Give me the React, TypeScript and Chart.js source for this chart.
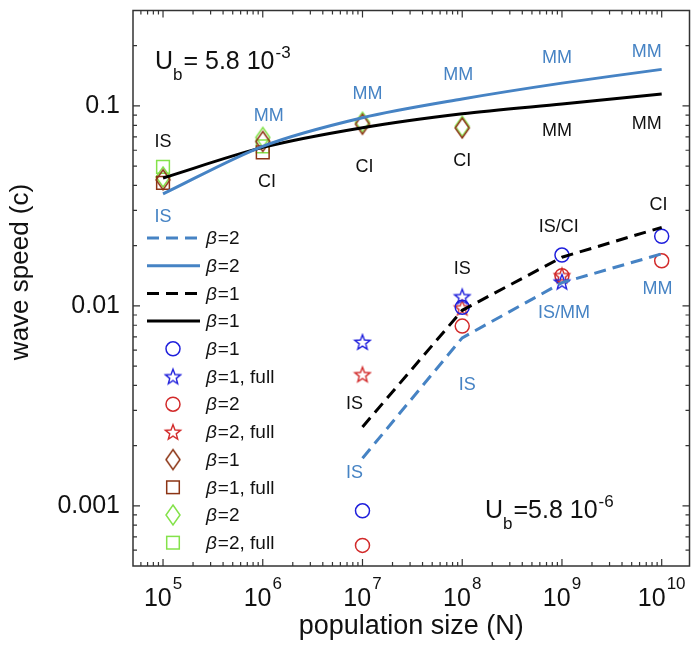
import React, { useEffect, useRef } from "react";
import { Chart, registerables } from "chart.js";

Chart.register(...registerables);

const FONT = "'Liberation Sans', Arimo, Arial, Helvetica, sans-serif";

// ---------------- data ----------------
const popTop = [1e5, 1e6, 1e7, 1e8, 1e9, 1e10];
const theoryTopBeta2 = [0.0363, 0.0628, 0.0873, 0.1083, 0.13, 0.1523];
const theoryTopBeta1 = [0.0436, 0.062, 0.0778, 0.0913, 0.1023, 0.1146];

const popLow = [1e7, 1e8, 1e9, 1e10];
const theoryLowBeta2 = [0.00173, 0.00692, 0.01306, 0.0182];
const theoryLowBeta1 = [0.00248, 0.0095, 0.0175, 0.0247];
const simLowBeta1 = [0.000944, 0.00984, 0.01795, 0.0223];
const simLowBeta2 = [0.000634, 0.00792, 0.01416, 0.0168];

const popLowFull = [1e7, 1e8, 1e9];
const fullLowBeta1 = [0.0066, 0.01114, 0.0132];
const fullLowBeta2 = [0.00454, 0.0098, 0.0142];

const popTopSim = [1e5, 1e6, 1e7, 1e8];
const simTopBeta1 = [0.0427, 0.0664, 0.081, 0.0775];
const simTopBeta2 = [0.0441, 0.0695, 0.0828, 0.079];

const popTopFull = [1e5, 1e6];
const fullTopBeta1 = [0.0412, 0.0586];
const fullTopBeta2 = [0.0496, 0.0628];

const xMin = 5e4;
const xMax = 1.9e10;
const yMin = 5e-4;
const yMax = 0.3;

const xTickValues = [1e5, 1e6, 1e7, 1e8, 1e9, 1e10];
const xTickExponents = ["5", "6", "7", "8", "9", "10"];
const yTickValues = [0.001, 0.01, 0.1];
const yTickLabels = ["0.001", "0.01", "0.1"];

const regimeText = ["IS", "IS", "MM", "CI", "MM", "CI", "MM", "CI", "MM", "MM", "MM", "MM", "CI", "IS/CI", "IS", "IS/MM", "MM", "IS", "IS", "IS"];
const regimeX = [1e5, 1e5, 1.15e6, 1.1e6, 1.12e7, 1.05e7, 0.91e8, 1e8, 0.89e9, 0.89e9, 0.71e10, 0.71e10, 0.93e10, 0.93e9, 1e8, 1.05e9, 0.91e10, 1.12e8, 0.83e7, 0.83e7];
const regimeY = [0.0657, 0.0277, 0.089, 0.0417, 0.1146, 0.0494, 0.1423, 0.0528, 0.1726, 0.0753, 0.187, 0.0815, 0.0321, 0.0247, 0.01531, 0.00918, 0.01219, 0.00404, 0.00323, 0.001455];
const regimeIsBlue = [false, true, true, false, true, false, true, false, true, false, true, false, false, false, false, true, true, true, false, true];

const ubX = [8.3e4, 1.69e8];
const ubY = [0.1524, 0.000873];
const ubMid = ["= 5.8 10", "=5.8 10"];
const ubExp = ["-3", "-6"];

const legendLabels = ["=2", "=2", "=1", "=1", "=1", "=1, full", "=2", "=2, full", "=1", "=1, full", "=2", "=2, full"];

// ---------------- styles ----------------
const LINE_BLUE = "#4683c4";
const MK_BLUE = "#1f1fdc";
const MK_RED = "#d22a2a";
const MK_BROWN = "#8c3414";
const MK_GREEN = "#84e24a";
const AXIS = "#333333";
const TXT = "#111111";

function starCanvas(color: string) {
  const s = 20;
  const c = document.createElement("canvas");
  c.width = s;
  c.height = s;
  const g = c.getContext("2d")!;
  g.strokeStyle = color;
  g.lineWidth = 1.4;
  g.lineJoin = "miter";
  g.beginPath();
  for (let i = 0; i < 10; i++) {
    const r = i % 2 === 0 ? 8 : 3.4;
    const a = -Math.PI / 2 + (i * Math.PI) / 5;
    const px = s / 2 + r * Math.cos(a);
    const py = s / 2 + 0.8 + r * Math.sin(a);
    if (i === 0) g.moveTo(px, py);
    else g.lineTo(px, py);
  }
  g.closePath();
  g.stroke();
  return c;
}

function diamondCanvas(color: string) {
  const w = 18;
  const h = 24;
  const c = document.createElement("canvas");
  c.width = w;
  c.height = h;
  const g = c.getContext("2d")!;
  g.strokeStyle = color;
  g.lineWidth = 1.5;
  g.beginPath();
  g.moveTo(w / 2, h / 2 - 10);
  g.lineTo(w / 2 + 7, h / 2);
  g.lineTo(w / 2, h / 2 + 10);
  g.lineTo(w / 2 - 7, h / 2);
  g.closePath();
  g.stroke();
  return c;
}

function pts(xs: number[], ys: number[]) {
  return xs.map((x, i) => ({ x, y: ys[i] }));
}

export default function App() {
  const ref = useRef<HTMLCanvasElement | null>(null);

  useEffect(() => {
    const canvas = ref.current;
    if (!canvas) return;

    const starBlue = starCanvas(MK_BLUE);
    const starRed = starCanvas(MK_RED);
    const diaBrown = diamondCanvas(MK_BROWN);
    const diaGreen = diamondCanvas(MK_GREEN);

    const lineDs = (label: string, xs: number[], ys: number[], color: string, dashed: boolean, tension: number) => ({
      type: "line" as const,
      label,
      data: pts(xs, ys),
      showLine: true,
      borderColor: color,
      borderWidth: 3,
      borderDash: dashed ? [12, 7] : [],
      pointRadius: 0,
      tension,
      fill: false,
    });

    const markerDs = (label: string, xs: number[], ys: number[], color: string, style: any, radius: number) => ({
      type: "scatter" as const,
      label,
      data: pts(xs, ys),
      showLine: false,
      pointStyle: style,
      pointRadius: radius,
      pointBorderColor: color,
      pointBackgroundColor: "rgba(0,0,0,0)",
      pointBorderWidth: 1.5,
      borderColor: color,
      backgroundColor: "rgba(0,0,0,0)",
    });

    const markerList = [
      { color: MK_BLUE, kind: "circle" },
      { color: MK_BLUE, kind: "star", img: starBlue },
      { color: MK_RED, kind: "circle" },
      { color: MK_RED, kind: "star", img: starRed },
      { color: MK_BROWN, kind: "diamond", img: diaBrown },
      { color: MK_BROWN, kind: "square" },
      { color: MK_GREEN, kind: "diamond", img: diaGreen },
      { color: MK_GREEN, kind: "square" },
    ];

    const decor = {
      id: "decor",
      afterDraw(chart: any) {
        const { ctx, chartArea: a, scales } = chart;
        const xs = scales.x;
        const ys = scales.y;
        ctx.save();

        // frame
        ctx.strokeStyle = AXIS;
        ctx.lineWidth = 1.5;
        ctx.strokeRect(a.left, a.top, a.right - a.left, a.bottom - a.top);

        // ticks (inward, all four sides)
        ctx.lineWidth = 1.2;
        const drawX = (v: number, len: number) => {
          const px = xs.getPixelForValue(v);
          if (px < a.left + 0.5 || px > a.right - 0.5) return;
          ctx.beginPath();
          ctx.moveTo(px, a.bottom);
          ctx.lineTo(px, a.bottom - len);
          ctx.moveTo(px, a.top);
          ctx.lineTo(px, a.top + len);
          ctx.stroke();
        };
        const drawY = (v: number, len: number) => {
          const py = ys.getPixelForValue(v);
          if (py < a.top + 0.5 || py > a.bottom - 0.5) return;
          ctx.beginPath();
          ctx.moveTo(a.left, py);
          ctx.lineTo(a.left + len, py);
          ctx.moveTo(a.right, py);
          ctx.lineTo(a.right - len, py);
          ctx.stroke();
        };
        for (let d = 4; d <= 10; d++) {
          for (let m = 1; m <= 9; m++) {
            const v = m * Math.pow(10, d);
            if (v < xMin || v > xMax) continue;
            drawX(v, m === 1 ? 7 : 4);
          }
        }
        for (let d = -4; d <= -1; d++) {
          for (let m = 1; m <= 9; m++) {
            const v = m * Math.pow(10, d);
            if (v < yMin || v > yMax) continue;
            drawY(v, m === 1 ? 7 : 4);
          }
        }

        // x tick labels 10^n
        ctx.fillStyle = TXT;
        ctx.textBaseline = "alphabetic";
        ctx.textAlign = "left";
        xTickValues.forEach((v, i) => {
          const px = xs.getPixelForValue(v);
          ctx.font = `25px ${FONT}`;
          const wb = ctx.measureText("10").width;
          ctx.font = `17px ${FONT}`;
          const we = ctx.measureText(xTickExponents[i]).width;
          const x0 = px - (wb + we + 1) / 2;
          ctx.font = `25px ${FONT}`;
          ctx.fillText("10", x0, 606);
          ctx.font = `17px ${FONT}`;
          ctx.fillText(xTickExponents[i], x0 + wb + 1, 589);
        });

        // y title
        ctx.save();
        ctx.translate(21, 272);
        ctx.rotate(-Math.PI / 2);
        ctx.textAlign = "center";
        ctx.textBaseline = "middle";
        ctx.font = `26px ${FONT}`;
        ctx.fillStyle = TXT;
        ctx.fillText("wave speed (c)", 0, 0);
        ctx.restore();

        // regime labels
        ctx.textAlign = "center";
        ctx.textBaseline = "middle";
        ctx.font = `18px ${FONT}`;
        regimeText.forEach((t, i) => {
          ctx.fillStyle = regimeIsBlue[i] ? LINE_BLUE : TXT;
          ctx.fillText(t, xs.getPixelForValue(regimeX[i]), ys.getPixelForValue(regimeY[i]));
        });

        // U_b labels
        ctx.fillStyle = TXT;
        ctx.textAlign = "left";
        ctx.textBaseline = "alphabetic";
        ubX.forEach((xv, i) => {
          const x = xs.getPixelForValue(xv);
          const y = ys.getPixelForValue(ubY[i]);
          ctx.font = `25px ${FONT}`;
          ctx.fillText("U", x, y);
          let cx = x + ctx.measureText("U").width;
          ctx.font = `17px ${FONT}`;
          ctx.fillText("b", cx, y + 11);
          cx += ctx.measureText("b").width + 1;
          ctx.font = `25px ${FONT}`;
          ctx.fillText(ubMid[i], cx, y);
          cx += ctx.measureText(ubMid[i]).width + 1;
          ctx.font = `17px ${FONT}`;
          ctx.fillText(ubExp[i], cx, y - 11);
        });

        // legend
        const rowY = (k: number) => 238 + k * 27.7;
        const lineStyles = [
          { c: LINE_BLUE, d: [12, 7] },
          { c: LINE_BLUE, d: [] },
          { c: "#000000", d: [12, 7] },
          { c: "#000000", d: [] },
        ];
        lineStyles.forEach((s, k) => {
          const y = rowY(k);
          ctx.save();
          ctx.strokeStyle = s.c;
          ctx.lineWidth = 3;
          ctx.setLineDash(s.d);
          ctx.beginPath();
          ctx.moveTo(147, y);
          ctx.lineTo(200, y);
          ctx.stroke();
          ctx.restore();
        });
        markerList.forEach((m: any, j) => {
          const y = rowY(j + 4);
          const x = 173;
          ctx.save();
          ctx.strokeStyle = m.color;
          ctx.lineWidth = 1.5;
          if (m.kind === "circle") {
            ctx.beginPath();
            ctx.arc(x, y, 7, 0, Math.PI * 2);
            ctx.stroke();
          } else if (m.kind === "square") {
            ctx.strokeRect(x - 6.3, y - 6.3, 12.6, 12.6);
          } else {
            ctx.drawImage(m.img, x - m.img.width / 2, y - m.img.height / 2);
          }
          ctx.restore();
        });
        ctx.fillStyle = TXT;
        ctx.textBaseline = "middle";
        ctx.textAlign = "left";
        legendLabels.forEach((t, k) => {
          const y = rowY(k);
          ctx.font = `italic 19px ${FONT}`;
          ctx.fillText("\u03b2", 206, y + 1);
          const wb = ctx.measureText("\u03b2").width;
          ctx.font = `19px ${FONT}`;
          ctx.fillText(t, 206 + wb + 1, y + 1);
        });

        ctx.restore();
      },
    };

    const chart = new Chart(canvas, {
      type: "scatter",
      data: {
        datasets: [
          lineDs("beta=2 theory top", popTop, theoryTopBeta2, LINE_BLUE, false, 0.3),
          lineDs("beta=1 theory top", popTop, theoryTopBeta1, "#000000", false, 0.3),
          lineDs("beta=2 theory low", popLow, theoryLowBeta2, LINE_BLUE, true, 0),
          lineDs("beta=1 theory low", popLow, theoryLowBeta1, "#000000", true, 0),
          markerDs("beta=1 sim low", popLow, simLowBeta1, MK_BLUE, "circle", 7),
          markerDs("beta=1 full low", popLowFull, fullLowBeta1, MK_BLUE, starBlue, 8),
          markerDs("beta=2 full low", popLowFull, fullLowBeta2, MK_RED, starRed, 8),
          markerDs("beta=2 sim low", popLow, simLowBeta2, MK_RED, "circle", 7),
          markerDs("beta=1 sim top", popTopSim, simTopBeta1, MK_BROWN, diaBrown, 8),
          markerDs("beta=1 full top", popTopFull, fullTopBeta1, MK_BROWN, "rect", 9),
          markerDs("beta=2 sim top", popTopSim, simTopBeta2, MK_GREEN, diaGreen, 8),
          markerDs("beta=2 full top", popTopFull, fullTopBeta2, MK_GREEN, "rect", 9),
        ] as any,
      },
      options: {
        animation: false,
        responsive: false,
        events: [],
        layout: { padding: { top: 4, right: 7, left: 0, bottom: 0 } },
        plugins: {
          legend: { display: false },
          tooltip: { enabled: false },
        },
        scales: {
          x: {
            type: "logarithmic",
            min: xMin,
            max: xMax,
            grid: { display: false, drawTicks: false },
            border: { display: false },
            ticks: { display: false },
            title: {
              display: true,
              text: "population size (N)",
              color: TXT,
              font: { family: FONT, size: 27 },
              padding: { top: 0, bottom: 3 },
            },
            afterFit: (s: any) => {
              s.height = 80;
              s.paddingLeft = 0;
              s.paddingRight = 0;
            },
          },
          y: {
            type: "logarithmic",
            min: yMin,
            max: yMax,
            grid: { display: false, drawTicks: false },
            border: { display: false },
            afterBuildTicks: (s: any) => {
              s.ticks = yTickValues.map((v) => ({ value: v }));
            },
            ticks: {
              color: TXT,
              padding: 13,
              autoSkip: false,
              font: { family: FONT, size: 25 },
              callback: (v: any) => {
                const i = yTickValues.findIndex((t) => Math.abs(t - Number(v)) / t < 1e-6);
                return i >= 0 ? yTickLabels[i] : "";
              },
            },
            title: { display: false },
            afterFit: (s: any) => {
              s.width = 133;
              s.paddingTop = 0;
              s.paddingBottom = 0;
            },
          },
        },
      },
      plugins: [decor],
    } as any);

    return () => chart.destroy();
  }, []);

  return (
    <div style={{ position: "fixed", left: 0, top: 0, width: 700, height: 646, background: "#ffffff" }}>
      <canvas ref={ref} width={700} height={646} style={{ display: "block", width: 700, height: 646 }} />
    </div>
  );
}
